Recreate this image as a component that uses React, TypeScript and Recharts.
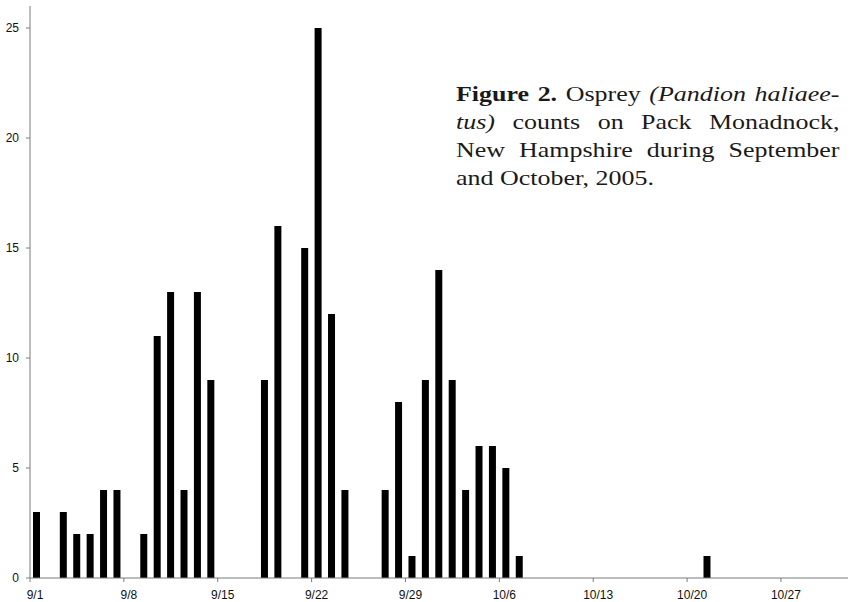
import { BarChart, Bar, XAxis, YAxis } from "recharts";

// daily osprey counts, index 0 = 9/1 ... index 60 = 10/31
const counts = [
  3, 0, 3, 2, 2, 4, 4, 0, 2, 11, 13, 4, 13, 9, 0, 0, 0, 9, 16, 0,
  15, 25, 12, 4, 0, 0, 4, 8, 1, 9, 14, 9, 4, 6, 6, 5, 1, 0, 0, 0,
  0, 0, 0, 0, 0, 0, 0, 0, 0, 0, 1, 0, 0, 0, 0, 0, 0, 0, 0, 0, 0,
];

const monthDays = [
  { month: 9, days: 30 },
  { month: 10, days: 31 },
];
const dayLabels = monthDays.flatMap((m) =>
  Array.from({ length: m.days }, (_, i) => `${m.month}/${i + 1}`)
);

const tickDays = [0, 7, 14, 21, 28, 35, 42, 49, 56];
const yTicks = [0, 5, 10, 15, 20, 25];

const data = counts.map((c, i) => ({ x: i + 0.5, day: dayLabels[i], count: c }));

const axisColor = "#7a7a7a";
const tickFont = { fontSize: 12, fill: "#111", fontFamily: "Liberation Sans, Arial, sans-serif" };
const justified = { textAlign: "justify" as const, textAlignLast: "justify" as const };

export default function App() {
  return (
    <div style={{ position: "absolute", left: 0, top: 0, width: 853, height: 602, background: "#fff", overflow: "hidden" }}>
      <BarChart width={853} height={602} data={data} margin={{ top: 6, right: 5, bottom: 0, left: 0 }}>
        <XAxis
          type="number"
          dataKey="x"
          domain={[0, 60.5]}
          ticks={tickDays}
          tickFormatter={(v: number) => dayLabels[v]}
          interval={0}
          height={24}
          stroke={axisColor}
          tickSize={4}
          tickMargin={8}
          tick={{ ...tickFont, dx: 5 }}
          allowDecimals={false}
        />
        <YAxis
          domain={[0, 26]}
          ticks={yTicks}
          width={30}
          stroke={axisColor}
          tickSize={4}
          tickMargin={7}
          tick={tickFont}
          interval={0}
        />
        <Bar dataKey="count" fill="#000" barSize={7} isAnimationActive={false} />
      </BarChart>
      {/* caption: glyphs look horizontally stretched in the scan */}
      <div
        style={{
          position: "absolute",
          left: 456,
          top: 80,
          width: 325,
          transform: "scaleX(1.18)",
          transformOrigin: "left top",
          fontFamily: "Liberation Serif, Times New Roman, serif",
          fontSize: 22,
          lineHeight: "28px",
          color: "#1a1a1a",
        }}
      >
        <div style={justified}>
          <b>Figure 2.</b> Osprey <i>(Pandion haliaee-</i>
        </div>
        <div style={justified}>
          <i>tus)</i> counts on Pack Monadnock,
        </div>
        <div style={justified}>New Hampshire during September</div>
        <div>and October, 2005.</div>
      </div>
    </div>
  );
}
